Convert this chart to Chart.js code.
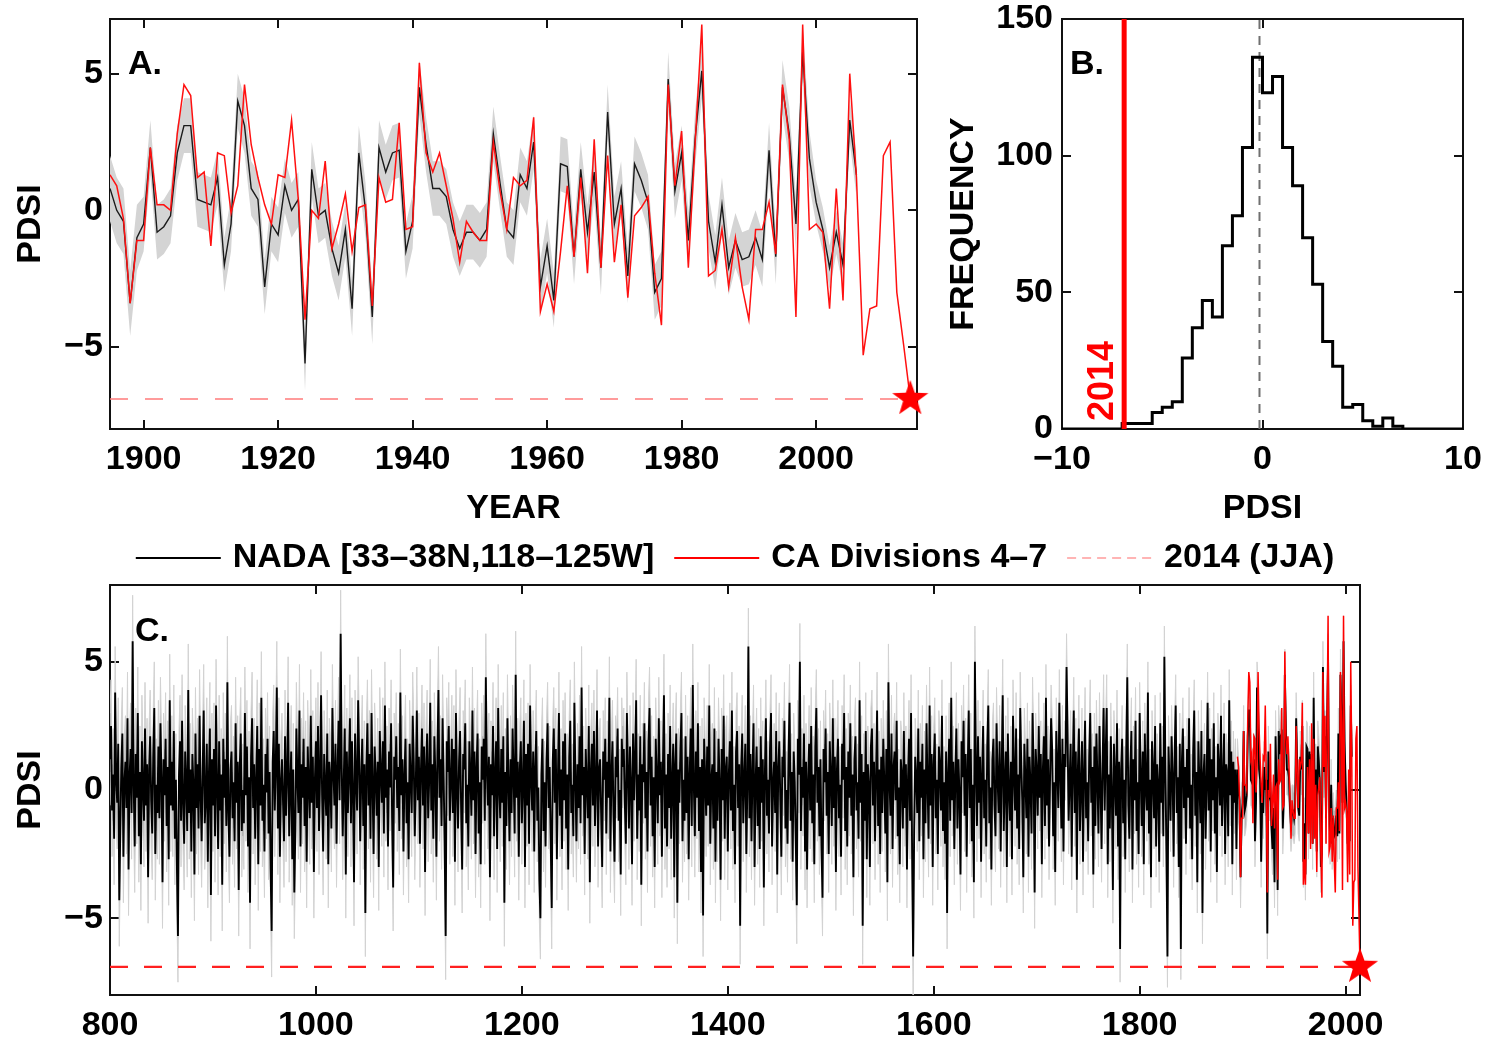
<!DOCTYPE html>
<html><head><meta charset="utf-8">
<script src="https://cdn.jsdelivr.net/npm/chart.js@4.4.1/dist/chart.umd.min.js"></script>
<style>
html,body{margin:0;padding:0;background:#fff;}
body{width:1497px;height:1040px;position:relative;overflow:hidden;}
canvas{position:absolute;}
</style></head><body>
<canvas id="cA" width="940" height="530" style="left:0;top:0"></canvas>
<canvas id="cB" width="557" height="530" style="left:940px;top:0"></canvas>
<canvas id="cC" width="1497" height="510" style="left:0;top:530px"></canvas>
<script>
// ---------------- DATA ----------------
// NADA reconstruction, years 800-1894 (ends the year before nadaLate starts)
const nadaEarly = [
 1.2,2.5,-0.8,0.6,-1.9,3.8,0.4,-0.5,1.8,-4.3,
 -1.5,0.9,2.2,-2.6,0.3,1.1,-0.7,2.8,-3.1,0.5,
 1.6,-0.9,5.8,0.2,-2.2,1.4,-0.3,3.0,-1.8,0.7,
 -2.9,1.9,0.1,-1.2,2.4,-0.6,1.0,-3.4,0.8,2.1,
 -0.4,-1.7,1.3,3.2,-2.5,0.2,-0.9,1.7,-1.1,2.6,
 0.5,-3.6,1.2,-0.2,2.0,-1.4,0.9,-2.7,3.5,-0.6,
 1.1,-0.8,2.3,-1.9,0.4,-3.0,-5.7,0.6,1.9,-1.2,
 2.7,-0.5,-2.1,1.5,0.3,-1.6,3.9,-0.9,0.8,-2.4,
 1.4,0.2,-3.3,2.2,-0.7,1.0,-1.5,2.9,-0.2,-2.0,
 0.7,3.1,-1.3,-0.4,1.8,-2.8,0.5,2.4,-4.1,1.2,
 -0.6,1.6,-1.8,3.3,0.1,-2.3,1.9,-0.8,0.6,-3.7,
 2.0,-0.3,1.2,-1.4,4.2,-0.9,-2.6,0.8,1.5,-1.1,
 0.3,-2.0,2.6,-0.5,1.1,-3.9,0.9,2.2,-1.6,0.0,
 -1.3,3.0,-0.2,1.7,-2.2,0.5,-4.4,1.3,2.8,-0.7,
 1.0,-1.9,0.4,2.5,-2.9,1.6,-0.6,3.6,-1.2,0.2,
 -2.4,1.4,-0.1,2.0,-1.7,0.7,-3.1,-5.5,1.1,2.3,
 -0.8,0.9,4.0,-1.5,1.8,-2.6,0.3,1.2,-0.4,-2.0,
 2.1,-1.0,0.6,3.4,-1.8,0.1,1.5,-2.7,0.8,-4.0,
 -1.6,2.4,0.5,-0.9,3.1,-2.2,1.0,-0.3,2.0,-1.4,
 0.9,-2.8,1.7,0.2,-1.1,2.9,-0.5,1.3,-3.2,0.4,
 1.9,-0.7,2.5,-1.6,0.6,3.7,-0.2,-2.4,1.4,0.1,
 -1.0,2.2,-2.9,1.1,0.4,-1.5,3.2,0.7,-0.6,1.8,
 -2.1,0.8,2.7,-0.4,6.1,1.0,-1.8,0.3,2.4,-3.3,
 1.5,-0.9,0.6,2.8,-1.3,1.9,-0.1,-3.6,2.2,0.4,
 -0.8,3.5,1.2,-2.0,0.5,2.0,-1.4,1.0,-4.8,0.9,
 2.6,-0.6,1.4,-1.9,3.0,0.2,-2.5,1.7,0.6,-1.0,
 1.1,-3.0,2.3,0.7,-0.5,1.9,-1.7,3.3,-0.3,0.8,
 -2.2,1.5,0.1,2.6,-1.1,-3.8,1.3,0.4,2.1,-0.7,
 0.9,-1.6,3.8,-0.2,1.2,-2.4,0.6,2.0,-1.3,0.3,
 -2.7,1.8,0.5,-0.9,2.9,1.1,-1.8,0.2,3.1,-0.4,
 1.3,-2.1,0.8,2.4,-0.6,1.7,-3.2,0.9,2.2,-1.1,
 0.4,3.4,-0.8,1.0,-1.9,2.1,0.6,-2.6,1.5,3.9,
 -0.3,1.2,-1.4,2.8,0.5,-2.0,-5.7,1.9,0.7,2.5,
 -1.2,0.3,2.0,-0.9,1.6,-2.8,3.0,0.1,-1.5,1.1,
 2.3,-0.7,-3.1,1.4,0.8,2.6,-1.3,0.2,-2.2,1.9,
 0.6,-1.0,3.1,-0.4,1.5,-2.5,0.9,2.2,-1.7,0.3,
 -2.9,1.7,0.4,2.0,-1.2,4.4,0.8,-0.6,1.3,-3.4,
 1.0,-0.2,2.5,-1.8,0.6,1.9,-2.3,3.2,0.1,-1.1,
 1.6,-0.5,2.1,-4.4,0.7,-1.4,2.8,0.3,-2.0,1.2,
 -0.9,2.4,0.5,-1.7,4.5,-0.3,1.1,-2.6,0.8,1.9,
 -1.3,0.2,2.7,-3.0,1.4,-0.6,1.8,-2.1,3.3,0.4,
 -0.8,1.5,-2.4,0.9,2.3,-1.2,0.1,-3.5,-5.0,0.6,
 2.0,-1.6,0.3,-2.2,1.2,2.6,-0.7,0.9,-1.9,-4.6,
 1.1,2.4,-0.5,1.6,-2.7,0.4,3.0,-1.0,0.8,-2.3,
 1.9,-0.4,2.2,-1.5,0.6,-3.1,1.3,2.7,-0.9,0.2,
 -1.8,3.4,0.5,-2.0,1.0,-0.7,2.1,-1.3,4.0,-0.2,
 0.9,-2.5,1.6,0.3,-1.1,2.5,-3.6,0.7,1.8,-0.6,
 2.3,-1.4,0.2,3.1,-2.2,0.8,1.2,-0.9,-3.0,1.5,
 0.4,2.0,-1.7,1.1,-0.3,3.6,-2.4,0.6,1.9,-1.0,
 -2.8,1.3,0.5,2.4,-1.2,0.0,-3.3,2.0,0.9,1.6,
 -0.5,-2.1,3.0,0.8,-1.5,1.7,0.2,-2.9,2.2,-0.4,
 1.2,3.5,-1.9,0.6,-0.8,2.1,-3.7,1.0,0.3,2.6,
 -1.1,0.7,-2.4,1.9,3.2,-0.6,1.3,-1.8,0.5,-3.0,
 2.0,0.4,-1.3,2.8,-0.2,1.1,-2.6,0.9,3.7,-1.5,
 0.6,-2.2,1.4,-0.7,2.5,-1.9,0.3,1.8,-3.4,1.0,
 2.2,-4.4,0.8,-0.5,1.6,3.0,-2.0,0.4,-1.2,2.1,
 -0.9,1.3,-2.7,0.6,2.4,-1.4,4.1,0.2,-1.8,1.5,
 -0.3,2.6,-1.6,0.9,-3.2,1.2,-4.9,2.0,0.5,-1.0,
 1.7,-0.6,3.3,-2.1,0.4,1.0,-1.5,2.4,-2.8,0.7,
 -1.2,2.0,0.3,-3.5,1.6,-0.4,2.9,-1.9,0.8,1.3,
 -2.4,0.6,1.9,-0.8,3.1,-1.6,0.2,-2.9,1.5,2.3,
 -0.7,1.0,-5.3,0.9,2.2,-1.3,0.4,1.8,-2.5,0.1,
 5.6,-1.1,1.4,-2.0,0.7,2.6,-3.0,0.3,1.7,-1.4,
 0.9,-2.3,2.1,-0.5,1.2,-3.8,0.6,2.8,-1.0,0.4,
 -1.7,1.6,3.0,-2.2,0.2,1.1,-0.9,2.3,-3.3,0.8,
 1.9,-0.4,-2.6,1.3,0.5,2.7,-1.5,0.0,-2.1,1.4,
 3.4,-1.2,0.7,-2.8,1.5,0.3,-1.9,-4.5,2.0,0.6,
 5.0,-1.6,0.9,-0.3,2.2,-2.4,1.1,-3.1,0.4,1.8,
 -0.8,2.5,-1.3,0.6,-2.9,1.7,3.2,-0.5,0.9,-1.8,
 1.2,-2.2,-4.2,1.6,0.3,2.4,-1.0,0.7,-2.5,1.9,
 0.5,-1.4,2.8,-0.7,1.3,-3.2,0.8,2.0,-1.1,0.2,
 -2.6,1.8,0.4,3.0,-1.6,0.9,-2.2,1.5,-0.3,2.6,
 -1.0,0.6,-3.4,1.2,2.1,-0.8,0.3,-1.9,3.5,-0.5,
 1.4,-5.3,0.7,-1.2,2.3,-2.7,1.0,0.2,-3.0,1.7,
 2.4,-0.6,1.1,-2.0,0.5,3.1,-1.4,0.8,-2.5,1.3,
 -0.9,2.0,0.3,-1.7,1.6,-3.6,4.2,0.4,-1.0,2.2,
 -2.3,0.9,1.5,-0.4,2.7,-1.8,0.1,-2.9,1.2,0.6,
 -1.5,2.3,-0.7,1.0,-3.1,0.4,2.0,-1.2,3.0,-2.4,
 -6.5,-1.6,1.3,0.5,-0.9,2.4,-2.0,1.1,-0.3,1.8,
 -2.7,0.8,-1.3,2.6,0.2,-1.9,3.3,-0.6,1.4,-3.0,
 1.0,2.2,-1.1,0.4,-2.5,1.7,0.9,-0.8,2.9,-1.6,
 0.3,-2.1,1.5,-4.8,0.7,2.0,-1.2,3.6,-0.4,1.1,
 -2.3,0.6,2.4,-1.5,1.2,-0.2,-3.3,1.9,0.5,2.7,
 -1.0,1.4,-2.6,0.8,3.1,-0.7,1.6,-2.0,0.2,-3.6,
 5.0,0.9,-1.4,2.1,-0.5,1.3,-2.8,0.6,2.5,-1.1,
 0.4,-2.2,1.7,3.3,-1.3,0.1,-3.1,1.2,2.0,-0.6,
 -1.8,2.6,0.5,-0.9,1.9,-2.4,0.8,3.7,-1.6,0.3,
 1.5,-3.0,2.2,0.0,-1.2,1.1,-2.7,2.9,0.7,-0.8,
 2.4,-1.5,0.6,-2.3,3.2,1.0,-0.4,-3.4,1.8,0.5,
 -1.1,2.0,-2.6,1.3,0.2,-1.7,3.0,0.9,-4.0,1.6,
 0.7,-1.0,2.5,-0.3,1.4,-2.9,0.8,2.1,-1.4,3.6,
 -0.6,1.2,-2.2,0.5,2.8,1.6,-1.8,0.3,-3.2,2.3,
 1.0,-0.7,3.4,0.6,-1.5,2.0,-2.4,1.4,0.9,4.8,
 2.2,-1.2,0.4,1.8,-2.6,0.7,3.1,-0.9,1.5,-3.5,
 0.8,2.4,-1.6,0.1,1.9,-2.8,0.6,2.7,-1.1,0.3,
 -2.0,1.3,3.0,-0.5,0.9,-3.3,1.7,-1.4,2.2,0.4,
 -1.7,2.5,0.2,-2.3,1.0,3.2,-0.8,1.4,3.2,-2.9,
 0.6,-1.5,2.1,-0.2,-3.9,1.8,0.5,-1.0,2.6,-2.2,
 1.1,-6.2,0.8,2.0,-1.3,0.4,-2.7,1.6,4.4,-0.6,
 -1.9,0.9,2.3,-3.1,1.2,-0.4,2.7,-1.6,0.3,-2.5,
 3.0,0.6,-1.4,1.5,-2.9,2.2,0.1,-0.8,3.8,-1.7,
 0.4,-3.4,1.9,0.7,-1.1,2.5,-2.2,1.0,0.2,-2.8,
 2.6,-0.5,1.3,-1.8,5.2,0.8,-2.4,-6.5,1.7,0.3,
 -1.2,2.1,0.6,-2.6,1.4,3.3,-0.9,0.5,-3.0,1.8,
 -6.2,1.1,2.4,-0.7,0.9,-2.1,1.6,-0.3,2.8,-1.5,
 0.2,-2.7,1.5,3.1,-1.0,0.7,-3.6,1.9,0.4,-1.3,
 2.3,-4.8,0.6,1.4,-1.9,0.1,3.4,-0.8,2.0,-2.4,
 1.2,-0.4,2.6,-1.7,0.5,-3.2,1.8,0.9,-0.6,2.9,
 -1.4,0.3,2.2,-2.5,1.0,0.6,-1.8,3.5,-0.2,1.5,
 -2.9,1.1,-0.5,0.8,-2.3
];
// NADA reconstruction, years 1895-2006
const nadaLateStart = 1895;
const nadaLate = [
 0.8,0.0,-0.4,-3.4,-1.0,
 -0.5,2.3,-0.8,-0.6,-0.2,2.1,3.1,3.1,0.4,0.3,
 0.2,1.2,-2.0,-0.5,4.0,3.1,0.8,0.4,-2.8,-0.5,
 -0.9,0.9,0.0,0.4,-5.6,1.5,-0.2,0.0,-1.4,-2.3,
 -0.7,-3.6,2.1,0.0,-3.9,2.3,1.4,2.1,2.2,-1.5,
 -0.4,4.5,2.4,0.8,0.8,0.5,-0.7,-1.4,-0.8,-0.8,
 -1.1,-0.7,2.8,1.0,-0.7,-1.0,1.3,0.8,2.5,-2.8,
 -1.3,-3.3,1.7,1.6,-1.7,1.5,-0.8,1.4,-2.1,3.6,
 -0.5,0.8,-2.4,1.7,1.1,0.3,-3.0,-2.5,4.8,0.7,
 2.1,-1.1,2.6,5.1,-0.4,-1.9,0.2,-2.1,-1.1,-1.8,
 -1.7,-1.0,-1.8,2.2,-1.7,4.5,2.8,-0.5,5.8,1.9,
 0.3,-0.7,-2.1,-0.8,-2.0,3.3,1.3
];
// NADA uncertainty half-width by century (800s ... 2000s)
const nadaBandCenturies = [800,900,1000,1100,1200,1300,1400,1500,1600,1700,1800,1900,2000];
const nadaBandHalfWidth = [1.8,1.8,1.7,1.7,1.6,1.6,1.5,1.5,1.4,1.3,1.2,1.0,0.8];
// California climate divisions 4-7 instrumental PDSI, 1895-2014
const caStart = 1895;
const caPdsi = [
 1.3,0.9,-0.3,-3.4,-1.1,
 -1.1,2.3,0.2,0.2,0.0,2.8,4.6,4.2,1.2,1.4,
 -1.3,2.1,2.0,-0.1,0.9,4.6,2.4,1.2,0.2,-0.5,
 1.3,1.2,3.3,0.4,-4.0,0.0,-0.3,1.8,-1.4,-0.5,
 0.6,-1.5,0.1,0.2,-3.5,1.2,0.3,0.4,3.2,-0.7,
 -0.6,5.4,2.1,1.4,2.1,0.9,-0.3,-1.9,-0.4,-0.8,
 -1.1,-1.1,2.5,0.7,-0.7,1.2,0.9,1.1,3.4,-3.7,
 -2.7,-3.7,-1.5,0.9,-1.7,1.2,-2.3,2.6,-2.1,2.0,
 -1.9,0.2,-3.2,-0.2,0.1,0.5,-2.3,-4.2,4.6,0.9,
 2.9,-2.1,2.4,6.8,-2.4,-2.2,-0.7,-2.8,-1.0,-2.8,
 -4.0,-0.7,-0.7,0.3,-1.6,4.6,2.6,-3.9,6.8,-0.7,
 -0.5,-0.8,-3.6,0.8,-3.3,5.0,1.2,-5.3,-3.6,-3.5,
 2.0,2.5,-3.0,-4.9,-6.9
];
const year2014 = 2014;
const pdsi2014 = -6.9;
// Panel B histogram of NADA PDSI (bin left edges, width 0.5)
const histBinWidth = 0.5;
const histBinLeft = [-7,-6.5,-6,-5.5,-5,-4.5,-4,-3.5,-3,-2.5,-2,-1.5,-1,-0.5,0,0.5,1,1.5,2,2.5,3,3.5,4,4.5,5,5.5,6,6.5];
const histCounts  = [2,2,2,6,8,10,26,37,47,41,67,78,103,136,123,129,103,89,70,53,32,23,8,9,3,1,4,1];
const nadaMeanPdsi = -0.15;
// tick labels
const ticksAx = [1900,1920,1940,1960,1980,2000];
const ticksAy = [-5,0,5];
const ticksBx = [-10,0,10];
const ticksBy = [0,50,100,150];
const ticksCx = [800,1000,1200,1400,1600,1800,2000];
const ticksCy = [-5,0,5];
const legendLabels = ['NADA [33\u201338N,118\u2013125W]','CA Divisions 4\u20137','2014 (JJA)'];

// ---------------- BUILD ----------------
const FONT = "'Liberation Sans', Arial, Helvetica, sans-serif";
Chart.defaults.font.family = FONT;
Chart.defaults.font.size = 34;
Chart.defaults.font.weight = 'bold';
Chart.defaults.color = '#000';

const nadaEarlyStart = nadaLateStart - nadaEarly.length;
const nadaAll = nadaEarly.map((v,i)=>({x:nadaEarlyStart+i,y:v})).concat(nadaLate.map((v,i)=>({x:nadaLateStart+i,y:v})));
function halfWidth(yr){ let k=Math.floor(yr/100)*100; let i=nadaBandCenturies.indexOf(k); if(i<0) i = yr<800?0:nadaBandCenturies.length-1; return nadaBandHalfWidth[i]; }
const caPts = caPdsi.map((v,i)=>({x:caStart+i,y:v}));
function fmt(v){ return v<0 ? '\u2212'+Math.abs(v) : String(v); }

function makeStar(size,color){
  const c=document.createElement('canvas'); c.width=size; c.height=size;
  const g=c.getContext('2d'); const R=size/2-1, r=R*0.40, cx=size/2, cy=size/2;
  g.beginPath();
  for(let i=0;i<10;i++){const a=-Math.PI/2+i*Math.PI/5; const rr=i%2?r:R; g.lineTo(cx+rr*Math.cos(a), cy+rr*Math.sin(a));}
  g.closePath(); g.fillStyle=color; g.fill(); return c;
}
const star = makeStar(40,'#ff0000');

function axis(o){
  return {
    type:'linear', min:o.min, max:o.max, position:o.position,
    grid:{display:false, drawTicks:false}, border:{display:false},
    ticks:{padding:o.pad, autoSkip:false, maxRotation:0, minRotation:0, color:'#000', font:{size:34,weight:'bold'}, callback:(v)=>fmt(v)},
    title: o.title ? {display:true, text:o.title, color:'#000', font:{size:34,weight:'bold'}, padding:o.titlePad} : {display:false},
    afterBuildTicks:(s)=>{ s.ticks = o.ticks.map(v=>({value:v})); },
    afterFit:(s)=>{
      if(o.width!=null) s.width=o.width; if(o.height!=null) s.height=o.height;
      s.paddingTop=0; s.paddingBottom=0; s.paddingLeft=0; s.paddingRight=0;
    }
  };
}

const boxPlugin = {
  id:'matlabBox',
  beforeDatasetsDraw(chart, args, o){
    const {ctx, chartArea:a} = chart; const xs=chart.scales.x, ys=chart.scales.y; const L=o.tickLen||9;
    ctx.save(); ctx.strokeStyle='#111'; ctx.lineWidth=2; ctx.beginPath();
    xs.ticks.forEach(t=>{const p=Math.round(xs.getPixelForValue(t.value)); ctx.moveTo(p,a.bottom); ctx.lineTo(p,a.bottom-L); ctx.moveTo(p,a.top); ctx.lineTo(p,a.top+L);});
    ys.ticks.forEach(t=>{const p=Math.round(ys.getPixelForValue(t.value)); ctx.moveTo(a.left,p); ctx.lineTo(a.left+L,p); ctx.moveTo(a.right,p); ctx.lineTo(a.right-L,p);});
    ctx.stroke();
    ctx.strokeRect(a.left,a.top,a.right-a.left,a.bottom-a.top);
    ctx.restore();
  },
  afterDatasetsDraw(chart, args, o){
    if(!o.label) return;
    const {ctx, chartArea:a} = chart;
    ctx.save(); ctx.font='bold 34px '+FONT; ctx.fillStyle='#000'; ctx.textBaseline='alphabetic'; ctx.textAlign='left';
    ctx.fillText(o.label, a.left+o.dx, a.top+o.dy); ctx.restore();
  }
};

const rowLegend = {
  id:'rowLegend',
  afterDraw(chart, args, o){
    const ctx=chart.ctx, a=chart.chartArea;
    const items = chart.data.datasets.filter(d=>d.legendRank!=null).sort((p,q)=>p.legendRank-q.legendRank)
      .map(d=>({text:d.label, color:d.legendColor||d.borderColor, dash:d.legendDash||[], width:d.legendWidth||2}));
    ctx.save(); ctx.font='bold 34px '+FONT; ctx.textBaseline='middle'; ctx.textAlign='left';
    const widths = items.map(it=>ctx.measureText(it.text).width);
    let total=0; widths.forEach(w=>total+=o.lineLen+o.gap+w); total+=o.itemGap*(items.length-1);
    let x=o.centerX-total/2; const y=a.top-o.dy;
    items.forEach((it,i)=>{
      ctx.beginPath(); ctx.setLineDash(it.dash); ctx.strokeStyle=it.color; ctx.lineWidth=it.width;
      ctx.moveTo(x,y); ctx.lineTo(x+o.lineLen,y); ctx.stroke(); ctx.setLineDash([]);
      ctx.fillStyle='#000'; ctx.fillText(it.text, x+o.lineLen+o.gap, y);
      x += o.lineLen+o.gap+widths[i]+o.itemGap;
    });
    ctx.restore();
  }
};

const textB = {
  id:'textB',
  afterDatasetsDraw(chart){
    const {ctx}=chart; const xs=chart.scales.x, ys=chart.scales.y;
    const px=xs.getPixelForValue(pdsi2014)-21, py=ys.getPixelForValue(0)-8;
    ctx.save(); ctx.translate(px,py); ctx.rotate(-Math.PI/2);
    ctx.font='bold 36px '+FONT; ctx.fillStyle='#ff0000'; ctx.textAlign='left'; ctx.textBaseline='middle';
    ctx.fillText(String(year2014),0,0); ctx.restore();
  }
};

const common = {responsive:false, animation:false, devicePixelRatio:1, events:[],
  elements:{point:{radius:0}, line:{tension:0}},
};

// ---------- Panel A ----------
const nadaA = nadaAll.filter(p=>p.x>=1895);
new Chart(document.getElementById('cA'), {
  type:'line',
  data:{datasets:[
    {label:'star', data:[{x:year2014,y:pdsi2014}], showLine:false, pointStyle:star, pointRadius:18, clip:false, order:0},
    {label:'2014 (JJA)', data:[{x:1895,y:pdsi2014},{x:year2014,y:pdsi2014}], borderColor:'#ff7b7b', borderWidth:1.6, borderDash:[18,17], pointRadius:0, order:1},
    {label:'CA', data:caPts, borderColor:'#ff1010', borderWidth:1.5, pointRadius:0, order:2},
    {label:'NADA', data:nadaA, borderColor:'#1a1a1a', borderWidth:1.4, pointRadius:0, order:3},
    {label:'up', data:nadaA.map(p=>({x:p.x,y:p.y+halfWidth(p.x)})), borderWidth:0, borderColor:'rgba(0,0,0,0)', pointRadius:0, order:4},
    {label:'lo', data:nadaA.map(p=>({x:p.x,y:p.y-halfWidth(p.x)})), borderWidth:0, borderColor:'rgba(0,0,0,0)', pointRadius:0, fill:{target:4}, backgroundColor:'#d4d4d4', order:5}
  ]},
  options:Object.assign({}, common, {
    parsing:false,
    layout:{padding:{left:0,top:19,right:23,bottom:0}},
    scales:{
      x: axis({min:1895,max:2015,position:'bottom',ticks:ticksAx,pad:10,title:'YEAR',titlePad:{top:0,bottom:1},height:101}),
      y: axis({min:-8,max:7,position:'left',ticks:ticksAy,pad:7,title:'PDSI',titlePad:{top:10,bottom:0},width:110})
    },
    plugins:{legend:{display:false}, tooltip:{enabled:false}, matlabBox:{label:'A.',dx:18,dy:55,tickLen:9}}
  }),
  plugins:[boxPlugin]
});

// ---------- Panel B ----------
const histPts = [{x:-10,y:0}].concat(histBinLeft.map((e,i)=>({x:e,y:histCounts[i]})),
  [{x:histBinLeft[histBinLeft.length-1]+histBinWidth,y:0},{x:10,y:0}]);
new Chart(document.getElementById('cB'), {
  type:'line',
  data:{datasets:[
    {label:'2014', data:[{x:pdsi2014,y:0},{x:pdsi2014,y:150}], borderColor:'#ff0000', borderWidth:5, pointRadius:0, order:0},
    {label:'hist', data:histPts, stepped:'before', borderColor:'#000', borderWidth:3, pointRadius:0, order:1},
    {label:'mean', data:[{x:nadaMeanPdsi,y:0},{x:nadaMeanPdsi,y:150}], borderColor:'#707070', borderWidth:2, borderDash:[9,7], pointRadius:0, order:2}
  ]},
  options:Object.assign({}, common, {
    parsing:false,
    layout:{padding:{left:0,top:19,right:34,bottom:0}},
    scales:{
      x: axis({min:-10,max:10,position:'bottom',ticks:ticksBx,pad:10,title:'PDSI',titlePad:{top:0,bottom:1},height:101}),
      y: axis({min:0,max:150,position:'left',ticks:ticksBy,pad:9,title:'FREQUENCY',titlePad:{top:3,bottom:0},width:122})
    },
    plugins:{legend:{display:false}, tooltip:{enabled:false}, matlabBox:{label:'B.',dx:8,dy:55,tickLen:9}}
  }),
  plugins:[boxPlugin, textB]
});

// ---------- Panel C ----------
new Chart(document.getElementById('cC'), {
  type:'line',
  data:{datasets:[
    {label:'star', data:[{x:year2014,y:pdsi2014}], showLine:false, pointStyle:star, pointRadius:18, clip:false, order:0},
    {label:legendLabels[2], data:[{x:800,y:pdsi2014},{x:year2014,y:pdsi2014}], borderColor:'#ff2020', borderWidth:2.2, borderDash:[18,16], pointRadius:0, order:1,
      legendRank:2, legendColor:'#ffb4b4', legendDash:[9,6]},
    {label:legendLabels[1], data:caPts, borderColor:'#ff0000', borderWidth:1.5, pointRadius:0, order:2, legendRank:1},
    {label:legendLabels[0], data:nadaAll, borderColor:'#000000', borderWidth:1.9, pointRadius:0, order:3, legendRank:0, legendWidth:2},
    {label:'up', data:nadaAll.map(p=>({x:p.x,y:p.y+halfWidth(p.x)})), borderWidth:1, borderColor:'#d2d2d2', pointRadius:0, order:4},
    {label:'lo', data:nadaAll.map(p=>({x:p.x,y:p.y-halfWidth(p.x)})), borderWidth:1, borderColor:'#d2d2d2', pointRadius:0, fill:{target:4}, backgroundColor:'#b4b4b4', order:5}
  ]},
  options:Object.assign({}, common, {
    parsing:false,
    layout:{padding:{left:0,top:55,right:137,bottom:0}},
    scales:{
      x: axis({min:800,max:2014,position:'bottom',ticks:ticksCx,pad:10,height:45}),
      y: axis({min:-8,max:8,position:'left',ticks:ticksCy,pad:7,title:'PDSI',titlePad:{top:10,bottom:0},width:110})
    },
    plugins:{legend:{display:false}, tooltip:{enabled:false}, matlabBox:{label:'C.',dx:25,dy:56,tickLen:9},
      rowLegend:{centerX:735, dy:27, lineLen:85, gap:12, itemGap:20}}
  }),
  plugins:[boxPlugin, rowLegend]
});
</script>
</body></html>
